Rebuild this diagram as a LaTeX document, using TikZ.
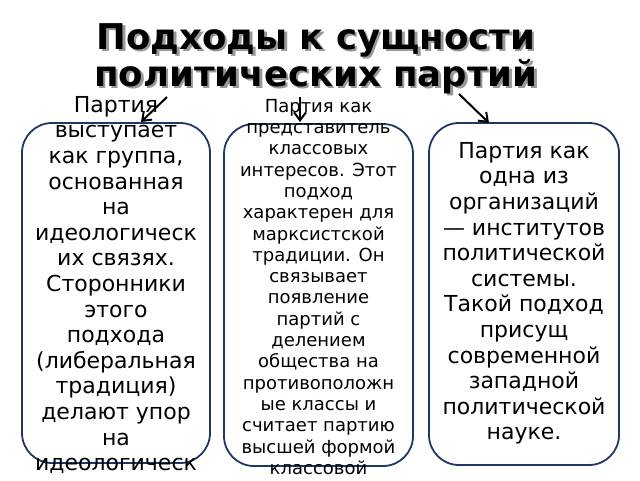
\documentclass[tikz,border=0pt]{standalone}
\usepackage{fontspec}
\setmainfont{DejaVu Sans}
\usetikzlibrary{arrows.meta}
\definecolor{boxblue}{HTML}{203864}
\begin{document}
\begin{tikzpicture}[x=1pt,y=-1pt,
  box/.style={draw=boxblue, line width=1.8pt, fill=white, rounded corners=30pt, inner sep=0pt},
  bigtext/.style={font=\fontsize{22}{25.6}\selectfont, align=center, inner sep=0pt, anchor=north},
  smalltext/.style={font=\fontsize{18}{21.3}\selectfont, align=center, inner sep=0pt, anchor=north},
  titletext/.style={font=\fontsize{35.5}{37}\selectfont\bfseries, align=center, inner sep=0pt, anchor=north},
  arr/.style={-{Straight Barb[length=8pt,width=12pt]}, line width=2pt}
]
\useasboundingbox[fill=white] (0,0) rectangle (640,480);
% title
\node[titletext, text=black!40] (tshadow) at (318.5,17.5) {\rule{0pt}{34pt}Подходы к сущности\\политических партий};
\node[titletext] (title) at (316,15) {\rule{0pt}{34pt}Подходы к сущности\\политических партий};
% boxes
\node[box, minimum width=188pt, minimum height=340pt] (bl) at (116,293) {};
\node[box, minimum width=189pt, minimum height=342pt] (bm) at (318.5,295) {};
\node[box, minimum width=190pt, minimum height=342pt] (br) at (524,294) {};
% texts
\node[bigtext] (tl) at (116,92) {\rule{0pt}{20pt}Партия\\выступает\\как группа,\\основанная\\на\\идеологическ\\их связях.\\Сторонники\\этого\\подхода\\(либеральная\\традиция)\\делают упор\\на\\идеологическ};
\node[smalltext] (tm) at (318.5,95) {\rule{0pt}{17pt}Партия как\\представитель\\классовых\\интересов. Этот\\подход\\характерен для\\марксистской\\традиции. Он\\связывает\\появление\\партий с\\делением\\общества на\\противоположн\\ые классы и\\считает партию\\высшей формой\\классовой};
\node[bigtext] (tr) at (524,138) {\rule{0pt}{20pt}Партия как\\одна из\\организаций\\— институтов\\политической\\системы.\\Такой подход\\присущ\\современной\\западной\\политической\\науке.};
% arrows
\coordinate (a1s) at (167,97);
\coordinate (a1e) at (141,122);
\coordinate (a2s) at (300,97);
\coordinate (a2e) at (300,122);
\coordinate (a3s) at (459,94);
\coordinate (a3e) at (489,123);
\draw[arr] (a1s) -- (a1e);
\draw[arr] (a2s) -- (a2e);
\draw[arr] (a3s) -- (a3e);
\end{tikzpicture}
\end{document}
